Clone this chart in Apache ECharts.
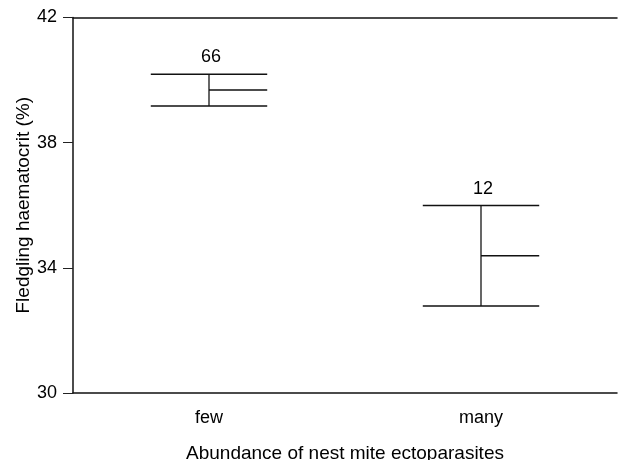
<!DOCTYPE html>
<html>
<head>
<meta charset="utf-8">
<script src="https://cdn.jsdelivr.net/npm/echarts@6/dist/echarts.min.js"></script>
<style>html,body{margin:0;padding:0;background:#fff}#c{width:618px;height:460px}</style>
</head>
<body>
<div id="c"></div>
<script>
var categories = ['few', 'many'];
var upperValues = [40.19, 35.99];
var lowerValues = [39.17, 32.78];
var meanValues = [39.68, 34.39];
var sampleSizes = ['66', '12'];
var yTicks = [30, 34, 38, 42];

var FONT = '"Liberation Sans", Arial, sans-serif';
var chart = echarts.init(document.getElementById('c'));
var data = categories.map(function (c, i) {
  return [i, upperValues[i], lowerValues[i], meanValues[i], sampleSizes[i]];
});
chart.setOption({
  animation: false,
  grid: { left: 73, right: 1, top: 17.5, bottom: 67, outerBoundsMode: 'none', containLabel: false },
  xAxis: [{
    type: 'category', data: categories, position: 'bottom',
    axisLine: { lineStyle: { color: '#111', width: 1.5 } },
    axisTick: { alignWithLabel: true, length: 7, lineStyle: { color: '#555', width: 1 } },
    axisLabel: { color: '#000', fontSize: 18, fontFamily: FONT, margin: 16 },
    name: 'Abundance of nest mite ectoparasites', nameLocation: 'middle', nameGap: 51,
    nameMoveOverlap: false,
    nameTextStyle: { color: '#000', fontSize: 19, fontFamily: FONT }
  }, {
    type: 'category', data: categories, position: 'top',
    axisLine: { lineStyle: { color: '#111', width: 1.5 } },
    axisTick: { show: false }, axisLabel: { show: false }
  }],
  yAxis: {
    type: 'value', min: 30, max: 42, interval: 4,
    axisLine: { show: true, lineStyle: { color: '#111', width: 1.5 } },
    axisTick: { show: true, length: 10, lineStyle: { color: '#222', width: 1 } },
    splitLine: { show: false },
    axisLabel: { color: '#000', fontSize: 18, fontFamily: FONT, margin: 16,
      formatter: function (v) { return yTicks.indexOf(v) >= 0 ? String(v) : ''; } },
    name: 'Fledgling haematocrit (%)', nameLocation: 'middle', nameGap: 40,
    nameMoveOverlap: false,
    nameTextStyle: { color: '#000', fontSize: 19, fontFamily: FONT }
  },
  series: [{
    type: 'custom',
    data: data,
    renderItem: function (params, api) {
      var x = api.value(0);
      var top = api.coord([x, api.value(1)]);
      var bot = api.coord([x, api.value(2)]);
      var mean = api.coord([x, api.value(3)]);
      var half = api.size([1, 0])[0] * 0.214;
      var st = { stroke: '#111', lineWidth: 1.5 };
      return {
        type: 'group',
        children: [
          { type: 'line', shape: { x1: top[0], y1: top[1], x2: bot[0], y2: bot[1] }, style: { stroke: '#000', lineWidth: 1.2 } },
          { type: 'line', shape: { x1: top[0] - half, y1: top[1], x2: top[0] + half, y2: top[1] }, style: st },
          { type: 'line', shape: { x1: bot[0] - half, y1: bot[1], x2: bot[0] + half, y2: bot[1] }, style: st },
          { type: 'line', shape: { x1: mean[0], y1: mean[1], x2: mean[0] + half, y2: mean[1] }, style: st },
          { type: 'text', x: top[0] + 2, y: top[1] - 17, style: { text: api.value(4), fill: '#000', fontSize: 18, fontFamily: FONT, textAlign: 'center', textVerticalAlign: 'middle' } }
        ]
      };
    }
  }]
});
</script>
</body>
</html>
